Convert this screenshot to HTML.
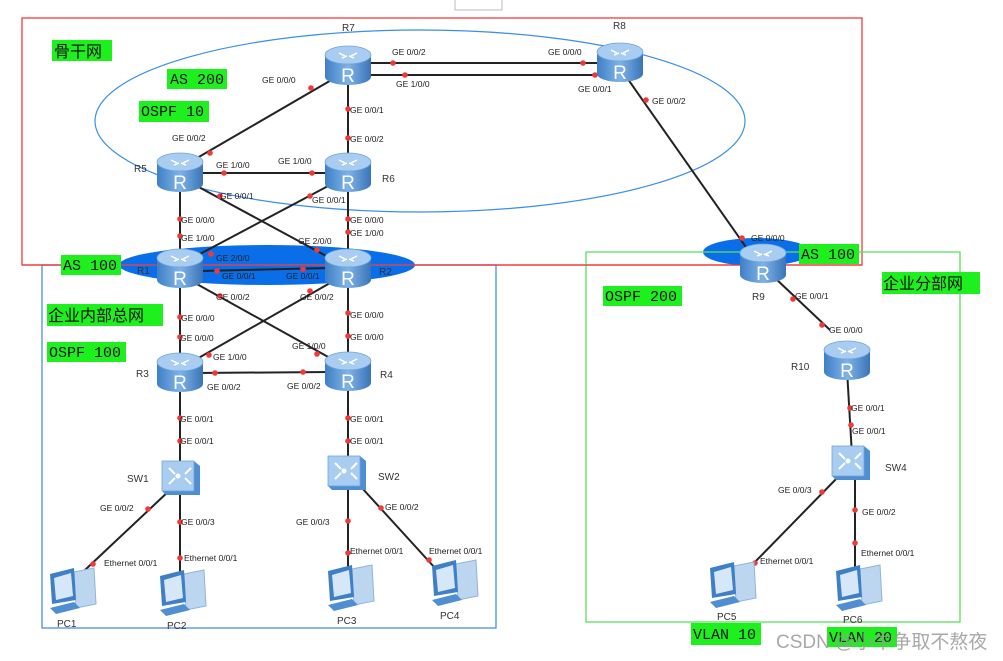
<!DOCTYPE html>
<html><head><meta charset="utf-8"><style>
html,body{margin:0;padding:0;background:#fff;}
svg{display:block;font-family:"Liberation Sans","Noto Sans CJK SC",sans-serif;}
.l{font-size:8.5px;fill:#222;}
.n{font-size:10px;fill:#333;}
.g{font-family:"Liberation Mono","Noto Sans CJK SC",monospace;font-size:15px;fill:#111;}
.c{font-family:"Liberation Sans","Noto Sans CJK SC",sans-serif;font-size:16px;fill:#111;}
</style></head><body>
<svg width="1003" height="661" viewBox="0 0 1003 661" xmlns="http://www.w3.org/2000/svg">
<defs>
<linearGradient id="rg" x1="0" y1="0" x2="1" y2="0">
<stop offset="0" stop-color="#3f7fc7"/><stop offset="0.5" stop-color="#7fb3e6"/><stop offset="1" stop-color="#3a74b8"/>
</linearGradient>
<g id="rt">
<path d="M-23,-10 L-23,12 A23,8 0 0 0 23,12 L23,-10 Z" fill="url(#rg)"/>
<ellipse cx="0" cy="-10" rx="23" ry="9" fill="#a9cdf0" stroke="#6fa3d8" stroke-width="0.8"/>
<path d="M-9,-12 l6,3 M9,-12 l-6,3 M-6,-7 l5,-2 M6,-7 l-5,-2" stroke="#fff" stroke-width="1.5"/>
<text x="0" y="17" text-anchor="middle" font-size="19" fill="#fff" font-family="Liberation Sans,sans-serif">R</text>
</g>
<g id="sw">
<path d="M-18,-16 L14,-16 L20,-11 L20,18 L-14,18 L-18,14 Z" fill="#4f8ed0"/>
<rect x="-18" y="-16" width="32" height="30" fill="#a8cdf0" stroke="#6fa3d8" stroke-width="0.8"/>
<path d="M-11,-9 l6,6 M11,-9 l-6,6 M-11,7 l6,-6 M11,7 l-6,-6" stroke="#fff" stroke-width="2"/>
<circle cx="-2" cy="-1" r="2.5" fill="#fff"/>
</g>
<g id="pc">
<path d="M4,-18 L24,-22 L26,14 L6,18 Z" fill="#bcd6ef" stroke="#8fb4dc"/>
<path d="M-20,-16 L4,-22 L6,10 L-18,14 Z" fill="#3f7fc7"/>
<path d="M-16,-12 L1,-17 L3,6 L-14,10 Z" fill="#d6e8f8"/>
<path d="M-20,18 L4,12 L10,18 L-14,24 Z" fill="#4f8ed0"/>
</g>
</defs>

<rect x="455" y="-2" width="47" height="12" fill="#fff" stroke="#bbb"/>

<rect x="22" y="18" width="840" height="247" fill="none" stroke="#f03a3a" stroke-width="1.3"/>
<ellipse cx="420" cy="121" rx="325" ry="91" fill="none" stroke="#3a8fe8" stroke-width="1.2"/>
<ellipse cx="267" cy="265" rx="148" ry="20" fill="#0a6ee8"/>
<ellipse cx="757" cy="252" rx="54" ry="14" fill="#0a6ee8"/>
<rect x="42" y="265" width="454" height="363" fill="none" stroke="#4a8fe0" stroke-width="1.3"/>
<rect x="586" y="252" width="374" height="370" fill="none" stroke="#5ce05c" stroke-width="1.3"/>
<line x1="22" y1="265" x2="862" y2="265" stroke="#f03a3a" stroke-width="1.2"/>

<g stroke="#222" stroke-width="2" fill="none">
<line x1="368" y1="63" x2="600" y2="63"/>
<line x1="368" y1="75" x2="600" y2="75"/>
<line x1="340" y1="75" x2="185" y2="165"/>
<line x1="348" y1="80" x2="348" y2="170"/>
<line x1="625" y1="75" x2="755" y2="260"/>
<line x1="190" y1="173" x2="340" y2="173"/>
<line x1="180" y1="180" x2="180" y2="265"/>
<line x1="348" y1="180" x2="348" y2="265"/>
<line x1="195" y1="185" x2="330" y2="258"/>
<line x1="330" y1="185" x2="198" y2="255"/>
<line x1="200" y1="271" x2="330" y2="268"/>
<line x1="180" y1="275" x2="180" y2="370"/>
<line x1="348" y1="275" x2="348" y2="370"/>
<line x1="195" y1="283" x2="330" y2="358"/>
<line x1="330" y1="283" x2="195" y2="360"/>
<line x1="195" y1="373" x2="330" y2="372"/>
<line x1="180" y1="385" x2="180" y2="470"/>
<line x1="348" y1="385" x2="348" y2="470"/>
<line x1="170" y1="490" x2="85" y2="570"/>
<line x1="180" y1="490" x2="180" y2="575"/>
<line x1="348" y1="485" x2="348" y2="570"/>
<line x1="362" y1="488" x2="435" y2="568"/>
<line x1="775" y1="278" x2="830" y2="330"/>
<line x1="847" y1="370" x2="852" y2="455"/>
<line x1="840" y1="475" x2="752" y2="565"/>
<line x1="855" y1="475" x2="855" y2="578"/>
</g>

<g fill="#f03a3a">
<circle cx="393" cy="63" r="2.8"/><circle cx="583" cy="63" r="2.8"/>
<circle cx="405" cy="75" r="2.8"/><circle cx="595" cy="75" r="2.8"/>
<circle cx="311" cy="88" r="2.8"/><circle cx="210" cy="153" r="2.8"/>
<circle cx="348" cy="109" r="2.8"/><circle cx="348" cy="138" r="2.8"/>
<circle cx="646" cy="100" r="2.8"/><circle cx="742" cy="238" r="2.8"/>
<circle cx="224" cy="173" r="2.8"/><circle cx="312" cy="173" r="2.8"/>
<circle cx="220" cy="196" r="2.8"/><circle cx="310" cy="196" r="2.8"/>
<circle cx="180" cy="219" r="2.8"/><circle cx="180" cy="236" r="2.8"/>
<circle cx="348" cy="219" r="2.8"/><circle cx="348" cy="232" r="2.8"/>
<circle cx="317" cy="250" r="2.8"/><circle cx="211" cy="254" r="2.8"/>
<circle cx="217" cy="271" r="2.8"/><circle cx="303" cy="269" r="2.8"/>
<circle cx="220" cy="296" r="2.8"/><circle cx="310" cy="291" r="2.8"/>
<circle cx="180" cy="317" r="2.8"/><circle cx="180" cy="337" r="2.8"/>
<circle cx="348" cy="313" r="2.8"/><circle cx="348" cy="336" r="2.8"/>
<circle cx="209" cy="355" r="2.8"/><circle cx="317" cy="354" r="2.8"/>
<circle cx="215" cy="373" r="2.8"/><circle cx="303" cy="372" r="2.8"/>
<circle cx="180" cy="418" r="2.8"/><circle cx="180" cy="441" r="2.8"/>
<circle cx="348" cy="418" r="2.8"/><circle cx="348" cy="441" r="2.8"/>
<circle cx="148" cy="509" r="2.8"/><circle cx="93" cy="564" r="2.8"/>
<circle cx="180" cy="522" r="2.8"/><circle cx="180" cy="558" r="2.8"/>
<circle cx="348" cy="521" r="2.8"/><circle cx="348" cy="553" r="2.8"/>
<circle cx="381" cy="508" r="2.8"/><circle cx="429" cy="560" r="2.8"/>
<circle cx="793" cy="299" r="2.8"/><circle cx="822" cy="325" r="2.8"/>
<circle cx="850" cy="408" r="2.8"/><circle cx="851" cy="425" r="2.8"/>
<circle cx="822" cy="492" r="2.8"/><circle cx="755" cy="563" r="2.8"/>
<circle cx="855" cy="510" r="2.8"/><circle cx="855" cy="543" r="2.8"/>
</g>

<g class="l">
<text x="392" y="55">GE 0/0/2</text><text x="548" y="55">GE 0/0/0</text>
<text x="396" y="87">GE 1/0/0</text><text x="578" y="92">GE 0/0/1</text>
<text x="262" y="83">GE 0/0/0</text><text x="172" y="141">GE 0/0/2</text>
<text x="350" y="113">GE 0/0/1</text><text x="350" y="142">GE 0/0/2</text>
<text x="652" y="104">GE 0/0/2</text>
<text x="216" y="168">GE 1/0/0</text><text x="278" y="164">GE 1/0/0</text>
<text x="220" y="199">GE 0/0/1</text><text x="312" y="203">GE 0/0/1</text>
<text x="181" y="223">GE 0/0/0</text><text x="181" y="241">GE 1/0/0</text>
<text x="350" y="223">GE 0/0/0</text><text x="350" y="236">GE 1/0/0</text>
<text x="298" y="244">GE 2/0/0</text><text x="216" y="261">GE 2/0/0</text>
<text x="222" y="279">GE 0/0/1</text><text x="286" y="279">GE 0/0/1</text>
<text x="216" y="300">GE 0/0/2</text><text x="300" y="300">GE 0/0/2</text>
<text x="181" y="321">GE 0/0/0</text><text x="180" y="341">GE 0/0/0</text>
<text x="350" y="318">GE 0/0/0</text><text x="350" y="340">GE 0/0/0</text>
<text x="213" y="360">GE 1/0/0</text><text x="292" y="349">GE 1/0/0</text>
<text x="207" y="390">GE 0/0/2</text><text x="287" y="389">GE 0/0/2</text>
<text x="180" y="422">GE 0/0/1</text><text x="180" y="444">GE 0/0/1</text>
<text x="350" y="422">GE 0/0/1</text><text x="350" y="444">GE 0/0/1</text>
<text x="100" y="511">GE 0/0/2</text><text x="181" y="525">GE 0/0/3</text>
<text x="296" y="525">GE 0/0/3</text><text x="385" y="510">GE 0/0/2</text>
<text x="104" y="566">Ethernet 0/0/1</text><text x="184" y="561">Ethernet 0/0/1</text>
<text x="350" y="554">Ethernet 0/0/1</text><text x="429" y="554">Ethernet 0/0/1</text>
<text x="751" y="241">GE 0/0/0</text>
<text x="795" y="299">GE 0/0/1</text>
<text x="829" y="333">GE 0/0/0</text>
<text x="851" y="411">GE 0/0/1</text><text x="852" y="434">GE 0/0/1</text>
<text x="778" y="493">GE 0/0/3</text><text x="862" y="515">GE 0/0/2</text>
<text x="760" y="564">Ethernet 0/0/1</text><text x="861" y="556">Ethernet 0/0/1</text>
</g>

<use href="#rt" x="348" y="65"/>
<use href="#rt" x="620" y="62"/>
<use href="#rt" x="180" y="172"/>
<use href="#rt" x="348" y="172"/>
<use href="#rt" x="180" y="268"/>
<use href="#rt" x="348" y="268"/>
<use href="#rt" x="180" y="372"/>
<use href="#rt" x="348" y="371"/>
<use href="#rt" x="763" y="263"/>
<use href="#rt" x="847" y="360"/>
<use href="#sw" x="180" y="477"/>
<use href="#sw" x="346" y="472"/>
<use href="#sw" x="850" y="462"/>
<use href="#pc" x="70" y="590"/>
<use href="#pc" x="180" y="592"/>
<use href="#pc" x="348" y="587"/>
<use href="#pc" x="452" y="582"/>
<use href="#pc" x="730" y="584"/>
<use href="#pc" x="856" y="587"/>

<g class="n">
<text x="342" y="31">R7</text><text x="613" y="29">R8</text>
<text x="134" y="172">R5</text><text x="382" y="182">R6</text>
<text x="137" y="274">R1</text><text x="379" y="275">R2</text>
<text x="136" y="377">R3</text><text x="380" y="378">R4</text>
<text x="752" y="300">R9</text>
<text x="791" y="370">R10</text>
<text x="127" y="482">SW1</text><text x="378" y="480">SW2</text><text x="885" y="471">SW4</text>
<text x="57" y="627">PC1</text><text x="167" y="629">PC2</text>
<text x="337" y="624">PC3</text><text x="440" y="619">PC4</text>
<text x="717" y="620">PC5</text><text x="843" y="623">PC6</text>
</g>

<g>
<rect x="52" y="40" width="60" height="21" fill="#1ef01e"/><text class="c" x="54" y="57">骨干网</text>
<rect x="167" y="69" width="60" height="20" fill="#1ef01e"/><text class="g" x="170" y="84">AS 200</text>
<rect x="139" y="101" width="70" height="21" fill="#1ef01e"/><text class="g" x="141" y="116">OSPF 10</text>
<rect x="61" y="255" width="60" height="20" fill="#1ef01e"/><text class="g" x="63" y="270">AS 100</text>
<rect x="47" y="304" width="116" height="22" fill="#1ef01e"/><text class="c" x="48" y="321">企业内部总网</text>
<rect x="47" y="342" width="79" height="20" fill="#1ef01e"/><text class="g" x="49" y="357">OSPF 100</text>
<rect x="603" y="286" width="79" height="20" fill="#1ef01e"/><text class="g" x="605" y="301">OSPF 200</text>
<rect x="799" y="244" width="60" height="20" fill="#1ef01e"/><text class="g" x="801" y="259">AS 100</text>
<rect x="882" y="272" width="98" height="22" fill="#1ef01e"/><text class="c" x="883" y="289">企业分部网</text>
<rect x="691" y="623" width="70" height="22" fill="#1ef01e"/><text class="g" x="693" y="639">VLAN 10</text>
<rect x="827" y="627" width="70" height="20" fill="#1ef01e"/><text class="g" x="829" y="642">VLAN 20</text>
</g>
<text x="776" y="648" font-size="19" fill="#999" fill-opacity="0.85" font-family="Liberation Sans,Noto Sans CJK SC,sans-serif">CSDN @小牛争取不熬夜</text>
</svg>
</body></html>
